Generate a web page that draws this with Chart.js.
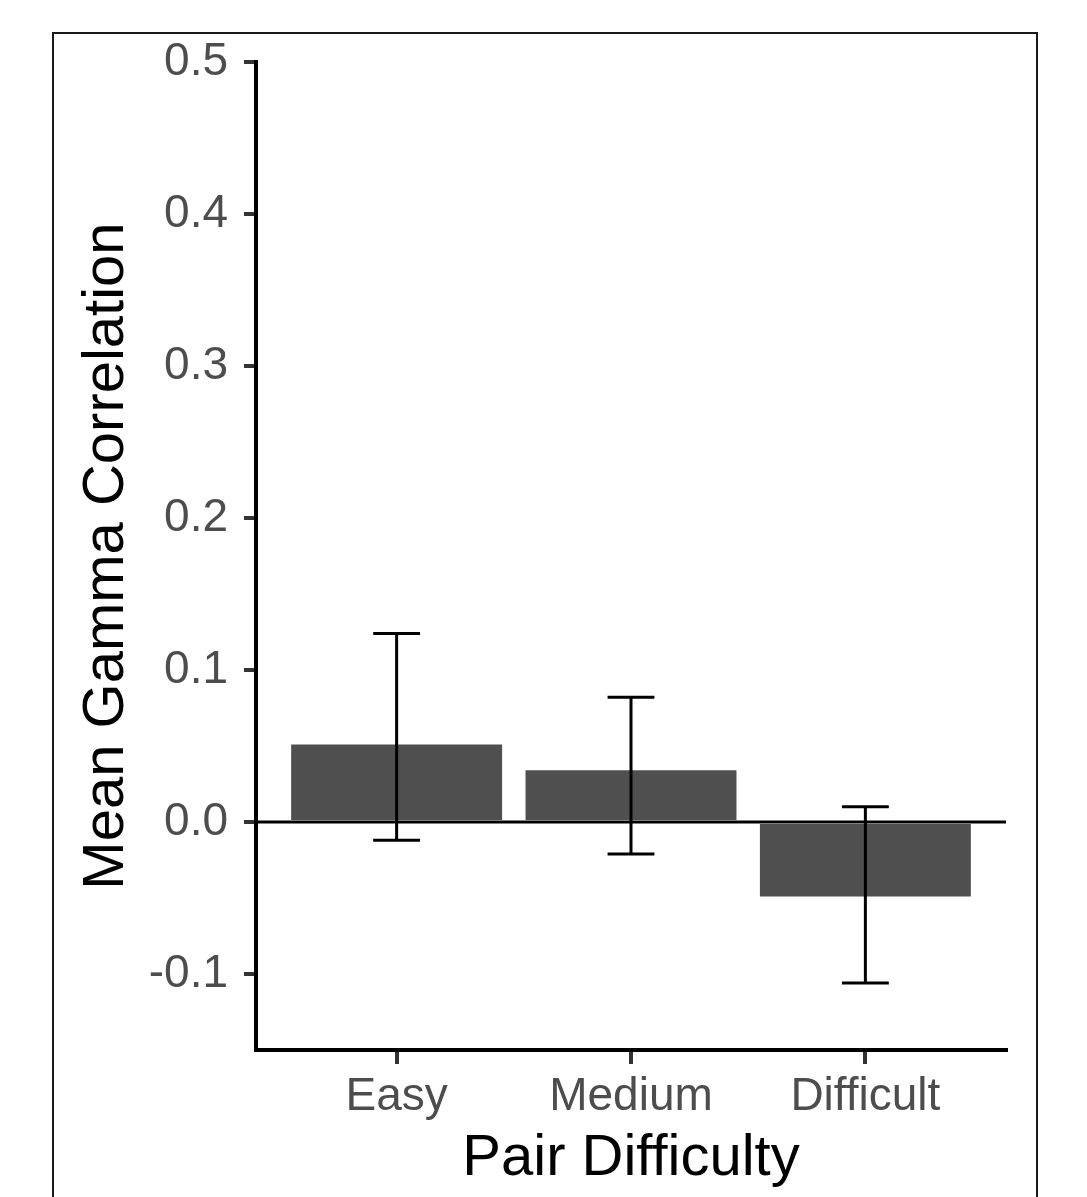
<!DOCTYPE html>
<html>
<head>
<meta charset="utf-8">
<title>Mean Gamma Correlation by Pair Difficulty</title>
<script src="https://cdn.jsdelivr.net/npm/chart.js@4"></script>
<style>
  html, body { margin: 0; padding: 0; background: #fff; }
  canvas { display: block; }
</style>
</head>
<body>
<canvas id="gammaChart" width="1087" height="1197"></canvas>
<script>
const categories = ['Easy', 'Medium', 'Difficult'];
const meanGamma = [0.051, 0.034, -0.049];
const errLow = [-0.012, -0.021, -0.106];
const errHigh = [0.124, 0.082, 0.010];
const yTicks = [-0.1, 0.0, 0.1, 0.2, 0.3, 0.4, 0.5];

const FONT = '"Liberation Sans", Arial, Helvetica, sans-serif';

// thin frame round the whole figure
const framePlugin = {
  id: 'frame',
  beforeDraw(chart) {
    const c = chart.ctx;
    c.save();
    c.strokeStyle = '#1a1a1a';
    c.lineWidth = 2;
    c.strokeRect(53, 33, 984, 1200);
    c.restore();
  }
};

// zero reference line and error bars, on top of the bars
const errorBarPlugin = {
  id: 'errorBars',
  afterDatasetsDraw(chart) {
    const c = chart.ctx;
    const xs = chart.scales.x;
    const ys = chart.scales.y;
    const area = chart.chartArea;
    c.save();
    c.strokeStyle = '#000';
    c.lineWidth = 3;
    c.beginPath();
    const y0 = ys.getPixelForValue(0);
    c.moveTo(area.left, y0);
    c.lineTo(area.right, y0);
    c.stroke();

    categories.forEach((cat, i) => {
      const x = xs.getPixelForValue(i + 1);
      const xl = xs.getPixelForValue(i + 1 - 0.1);
      const xr = xs.getPixelForValue(i + 1 + 0.1);
      const yl = ys.getPixelForValue(errLow[i]);
      const yh = ys.getPixelForValue(errHigh[i]);
      c.beginPath();
      c.moveTo(x, yl);
      c.lineTo(x, yh);
      c.moveTo(xl, yh);
      c.lineTo(xr, yh);
      c.moveTo(xl, yl);
      c.lineTo(xr, yl);
      c.stroke();
    });
    c.restore();
  }
};

new Chart(document.getElementById('gammaChart'), {
  type: 'bar',
  data: {
    datasets: [{
      data: categories.map((cat, i) => ({ x: i + 1, y: meanGamma[i] })),
      backgroundColor: '#4f4f4f',
      borderWidth: 0,
      barPercentage: 0.9,
      categoryPercentage: 1.0
    }]
  },
  options: {
    responsive: false,
    animation: false,
    layout: { padding: { top: 62, right: 81, bottom: 0, left: 0 } },
    plugins: {
      legend: { display: false },
      tooltip: { enabled: false }
    },
    scales: {
      x: {
        type: 'linear',
        min: 0.4,
        max: 3.6,
        offset: false,
        afterBuildTicks: s => { s.ticks = categories.map((c, i) => ({ value: i + 1 })); },
        afterFit: s => { s.height = 147; },
        ticks: {
          callback: v => categories[v - 1],
          color: '#4d4d4d',
          padding: 6,
          maxRotation: 0,
          font: { family: FONT, size: 46, lineHeight: 1.2 }
        },
        grid: {
          offset: false,
          drawOnChartArea: false,
          drawTicks: true,
          tickLength: 14,
          lineWidth: 4,
          tickWidth: 4,
          tickColor: '#333'
        },
        border: { display: true, color: '#000', width: 4 },
        title: {
          display: true,
          text: 'Pair Difficulty',
          color: '#000',
          padding: { top: 0, bottom: 3 },
          font: { family: FONT, size: 58, lineHeight: 1.2 }
        }
      },
      y: {
        min: -0.15,
        max: 0.5,
        afterBuildTicks: s => { s.ticks = yTicks.map(v => ({ value: v })); },
        afterFit: s => { s.width = 256; },
        ticks: {
          callback: v => v.toFixed(1),
          color: '#4d4d4d',
          padding: 16,
          font: { family: FONT, size: 46, lineHeight: 1.2 }
        },
        grid: {
          drawOnChartArea: false,
          drawTicks: true,
          tickLength: 12,
          lineWidth: 4,
          tickWidth: 4,
          tickColor: '#333'
        },
        border: { display: true, color: '#000', width: 4 },
        title: {
          display: true,
          text: 'Mean Gamma Correlation',
          color: '#000',
          padding: { top: 72, bottom: 0 },
          font: { family: FONT, size: 58, lineHeight: 1.2 }
        }
      }
    }
  },
  plugins: [framePlugin, errorBarPlugin]
});
</script>
</body>
</html>
